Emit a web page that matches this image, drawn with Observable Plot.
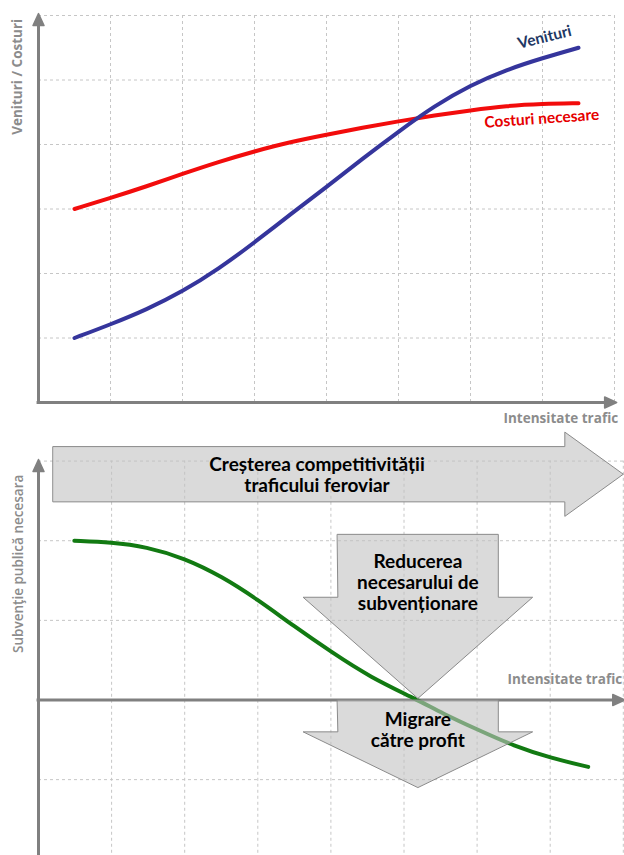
<!DOCTYPE html>
<html><head><meta charset="utf-8">
<script src="https://cdn.jsdelivr.net/npm/d3@7"></script>
<script src="https://cdn.jsdelivr.net/npm/@observablehq/plot@0.6"></script>
<style>body{margin:0;background:#fff;overflow:hidden} #c svg{display:block}</style>
</head><body><div id="c"></div>
<script>
// ---- data (traffic intensity in grid units) ----
const topX = [0.5, 1, 1.5, 2, 2.5, 3, 3.5, 4, 4.5, 5, 5.5, 6, 6.5, 7, 7.5];
const venituri = [1.0, 1.21, 1.44, 1.72, 2.07, 2.48, 2.92, 3.34, 3.78, 4.2, 4.6, 4.92, 5.16, 5.34, 5.5];
const costuri = [3.0, 3.17, 3.35, 3.545, 3.73, 3.895, 4.04, 4.15, 4.26, 4.36, 4.45, 4.53, 4.6, 4.63, 4.64];
const bottomX = [0.49, 1.0, 1.47, 2.0, 2.51, 3.0, 3.49, 4.01, 4.53, 5.19, 5.52, 6.0, 6.51, 7.0, 7.52];
const subventie = [2.0, 1.98, 1.925, 1.78, 1.55, 1.26, 0.93, 0.6, 0.29, 0.0, -0.165, -0.37, -0.58, -0.725, -0.84];
const topGridX = [1, 2, 3, 4, 5, 6, 7, 8];
const topGridY = [1, 2, 3, 4, 5, 6];
const bottomGridX = [1, 2, 3, 4, 5, 6, 7, 8];
const bottomGridY = [3, 2, 1, -1];
const topYTitle = "Venituri / Costuri";
const bottomYTitle = "Subvenţie publică necesara";
const xTitle = "Intensitate trafic";
const seriesNames = ["Venituri", "Costuri necesare"];
const arrowLabels = ["Creșterea competitivității\ntraficului feroviar", "Reducerea\nnecesarului de\nsubvenționare", "Migrare\ncătre profit"];

// ---- helpers ----
const GRID = {stroke: "#c6c6c6", strokeDasharray: "3,3", strokeWidth: 1};
const AXIS = "#808080";
const fontMain = "Lato, 'Open Sans', sans-serif";
const fontAxis = "'Open Sans', Lato, sans-serif";
const CURVE = "basis";

function headUp(x, yTip, kx, ky, len = 12, half = 5.5) {
  return [{x, y: yTip}, {x: x + half / kx, y: yTip - len / ky}, {x: x - half / kx, y: yTip - len / ky}];
}
function headRight(xTip, y, kx, ky, len = 12, half = 5.5) {
  return [{x: xTip, y}, {x: xTip - len / kx, y: y + half / ky}, {x: xTip - len / kx, y: y - half / ky}];
}
function rightArrow(x0, xh, xt, yc, bh, hh) {
  return [{x: x0, y: yc + bh}, {x: xh, y: yc + bh}, {x: xh, y: yc + hh}, {x: xt, y: yc},
          {x: xh, y: yc - hh}, {x: xh, y: yc - bh}, {x: x0, y: yc - bh}];
}
function downArrow(xc, yt, yh, ytip, bw, hw) {
  return [{x: xc - bw, y: yt}, {x: xc + bw, y: yt}, {x: xc + bw, y: yh}, {x: xc + hw, y: yh},
          {x: xc, y: ytip}, {x: xc - hw, y: yh}, {x: xc - bw, y: yh}];
}
const poly = (pts, opts) => Plot.line(pts, {x: "x", y: "y", curve: "linear-closed", ...opts});
const AXTEXT = {fill: "#8c8c8c", fontSize: 13.5, fontWeight: "bold", fontFamily: fontAxis};
const ARTEXT = {fill: "#000", fontSize: 19, fontWeight: "bold", lineHeight: 1.1, fontFamily: fontMain};

// ---- top panel ----
const kx1 = 72, ky1 = 64.5;
const topRows = topX.map((x, i) => ({x, venituri: venituri[i], costuri: costuri[i]}));
const topYTip = 6.03, topXTip = 8.03;

const topPlot = Plot.plot({
  width: 624, height: 425, margin: 0,
  x: {domain: [-38 / kx1, 586 / kx1], axis: null},
  y: {domain: [-23 / ky1, 402 / ky1], axis: null},
  style: {fontFamily: fontMain, background: "#fff", overflow: "visible"},
  marks: [
    Plot.ruleX(topGridX, {y1: 0, y2: 6, ...GRID}),
    Plot.ruleY(topGridY, {x1: 0, x2: 8, ...GRID}),
    Plot.ruleX([0], {y1: -0.02, y2: topYTip - 10 / ky1, stroke: AXIS, strokeWidth: 3}),
    Plot.ruleY([0], {x1: -0.02, x2: topXTip - 10 / kx1, stroke: AXIS, strokeWidth: 3}),
    poly(headUp(0, topYTip, kx1, ky1), {fill: AXIS, stroke: AXIS}),
    poly(headRight(topXTip, 0, kx1, ky1), {fill: AXIS, stroke: AXIS}),
    Plot.line(topRows, {x: "x", y: "costuri", curve: CURVE, stroke: "#f20c0c", strokeWidth: 4}),
    Plot.line(topRows, {x: "x", y: "venituri", curve: CURVE, stroke: "#35359c", strokeWidth: 4}),
    Plot.text([seriesNames[0]], {x: 7.03, y: 5.66, text: d => d, rotate: -14, fill: "#1f3864",
      fontSize: 15.5, fontWeight: "bold", fontFamily: fontMain}),
    Plot.text([seriesNames[1]], {x: 6.99, y: 4.40, text: d => d, rotate: -4, fill: "#e60000",
      fontSize: 15.5, fontWeight: "bold", fontFamily: fontMain}),
    Plot.text([topYTitle], {x: -0.29, y: 5.05, text: d => d, rotate: -90, ...AXTEXT}),
    Plot.text([xTitle], {x: (503 - 38) / kx1, y: -0.25, text: d => d, textAnchor: "start", ...AXTEXT})
  ]
});

// ---- bottom panel ----
const kx2 = 73.1, ky2 = 79.64;
const botRows = bottomX.map((x, i) => ({x, subventie: subventie[i]}));
const botYTip = 3.02, botXTip = 8.02;
const ARROW = {fill: "#c2c2c2", fillOpacity: 0.6, stroke: "#8a8a8a", strokeWidth: 1};

const bottomPlot = Plot.plot({
  width: 624, height: 430, margin: 0,
  x: {domain: [-38 / kx2, 586 / kx2], axis: null},
  y: {domain: [-155.5 / ky2, 274.5 / ky2], axis: null},
  style: {fontFamily: fontMain, background: "#fff", overflow: "visible"},
  marks: [
    Plot.ruleX(bottomGridX, {y1: -2, y2: 3, ...GRID}),
    Plot.ruleY(bottomGridY, {x1: 0, x2: 8.1, ...GRID}),
    Plot.ruleX([0], {y1: -2, y2: botYTip - 10 / ky2, stroke: AXIS, strokeWidth: 3}),
    Plot.ruleY([0], {x1: -0.02, x2: botXTip - 10 / kx2, stroke: AXIS, strokeWidth: 3}),
    poly(headUp(0, botYTip, kx2, ky2), {fill: AXIS, stroke: AXIS}),
    poly(headRight(botXTip, 0, kx2, ky2), {fill: AXIS, stroke: AXIS}),
    Plot.line(botRows, {x: "x", y: "subventie", curve: CURVE, stroke: "#127a12", strokeWidth: 4}),
    poly(rightArrow(0.2, 7.2, 8.0, 2.835, 0.347, 0.529), ARROW),
    poly(downArrow(5.19, 2.08, 1.29, 0.02, 1.10, 1.57), ARROW),
    poly(downArrow(5.19, 0.0, -0.40, -1.10, 1.10, 1.57), ARROW),
    Plot.text([arrowLabels[0]], {x: 3.81, y: 2.83, text: d => d, ...ARTEXT}),
    Plot.text([arrowLabels[1]], {x: 5.19, y: 1.475, text: d => d, ...ARTEXT}),
    Plot.text([arrowLabels[2]], {x: 5.19, y: -0.377, text: d => d, ...ARTEXT}),
    Plot.text([bottomYTitle], {x: -0.27, y: 1.71, text: d => d, rotate: -90, ...AXTEXT, fontWeight: 600}),
    Plot.text([xTitle], {x: (507 - 38) / kx2, y: 0.257, text: d => d, textAnchor: "start", ...AXTEXT})
  ]
});

const c = document.getElementById("c");
c.appendChild(topPlot);
c.appendChild(bottomPlot);
</script></body></html>
